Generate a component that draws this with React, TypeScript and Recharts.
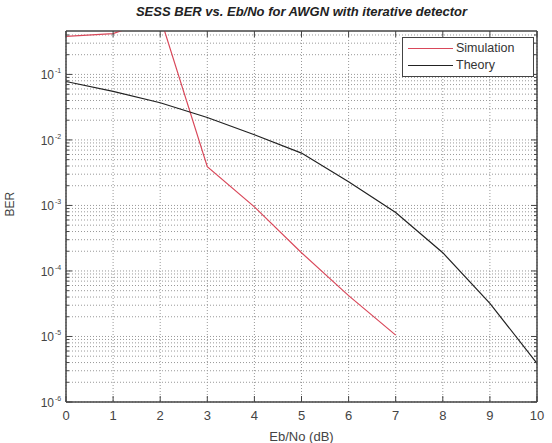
import { LineChart, Line, XAxis, YAxis, CartesianGrid, ReferenceArea } from "recharts";

const ebNo = [0, 1, 2, 3, 4, 5, 6, 7, 8, 9, 10];
const simulationBer = [0.38, 0.42, 0.75, 3.9e-3, 9.5e-4, 1.9e-4, 4.2e-5, 1.05e-5, null, null, null];
const theoryBer = [7.8e-2, 5.5e-2, 3.7e-2, 2.2e-2, 1.2e-2, 6.3e-3, 2.3e-3, 7.8e-4, 1.9e-4, 3.2e-5, 3.9e-6];

const xTicks = [0, 1, 2, 3, 4, 5, 6, 7, 8, 9, 10];
const decades = [1e-6, 1e-5, 1e-4, 1e-3, 1e-2, 1e-1];
const yTop = 0.46;

// minor grid / tick positions: 1..9 times each decade, up to the top of the axis
const yGrid = decades
  .flatMap((d) => [1, 2, 3, 4, 5, 6, 7, 8, 9].map((m) => +(m * d).toPrecision(3)))
  .filter((v) => v <= yTop);

const data = ebNo.map((x, i) => ({ x, sim: simulationBer[i], theory: theoryBer[i] }));

const font = "'Liberation Sans', Arial, sans-serif";
const axisColor = "#444";

const isDecade = (v: number) => Math.abs(Math.log10(v) - Math.round(Math.log10(v))) < 1e-6;

const LeftTick = ({ x, y, payload }: any) => {
  const major = isDecade(payload.value);
  const exp = Math.round(Math.log10(payload.value));
  return (
    <g>
      <line x1={x} x2={x + (major ? 6 : 3)} y1={y} y2={y} stroke={axisColor} />
      {major && (
        <text x={x - 12} y={y + 5} textAnchor="end" fontSize={12} fill="#444" fontFamily={font}>
          10
        </text>
      )}
      {major && (
        <text x={x - 11} y={y - 1} textAnchor="start" fontSize={7} fill="#444" fontFamily={font}>
          {exp}
        </text>
      )}
    </g>
  );
};

const RightTick = ({ x, y, payload }: any) => {
  const major = isDecade(payload.value);
  return <line x1={x} x2={x - (major ? 6 : 3)} y1={y} y2={y} stroke={axisColor} />;
};

const BottomTick = ({ x, y, payload }: any) => (
  <g>
    <line x1={x} x2={x} y1={y} y2={y - 6} stroke={axisColor} />
    <text x={x} y={y + 18} textAnchor="middle" fontSize={13} fill="#444" fontFamily={font}>
      {payload.value}
    </text>
  </g>
);

const TopTick = ({ x, y }: any) => <line x1={x} x2={x} y1={y} y2={y + 6} stroke={axisColor} />;

export default function App() {
  return (
    <div style={{ position: "absolute", left: 0, top: 0, width: 552, height: 443, background: "#fff" }}>
      <div
        style={{
          position: "absolute",
          left: 66,
          width: 471,
          top: 4,
          textAlign: "center",
          fontFamily: font,
          fontSize: 13,
          fontWeight: "bold",
          fontStyle: "italic",
          color: "#222",
        }}
      >
        SESS BER vs. Eb/No for AWGN with iterative detector
      </div>
      <LineChart width={552} height={443} data={data} margin={{ top: 30, right: 0, left: 0, bottom: 0 }}>
        <CartesianGrid
          xAxisId="bottom"
          yAxisId="left"
          stroke="#999"
          strokeDasharray="1 2"
          verticalValues={xTicks}
          horizontalValues={yGrid}
        />
        <XAxis
          xAxisId="bottom"
          dataKey="x"
          type="number"
          domain={[0, 10]}
          ticks={xTicks}
          interval={0}
          height={41}
          tickSize={0}
          tickMargin={0}
          tick={<BottomTick />}
          stroke={axisColor}
          label={{ value: "Eb/No (dB)", position: "insideBottom", offset: 2, fontSize: 13, fill: "#444", fontFamily: font }}
        />
        <XAxis
          xAxisId="top"
          orientation="top"
          dataKey="x"
          type="number"
          domain={[0, 10]}
          ticks={xTicks}
          interval={0}
          height={1}
          tickSize={0}
          tickMargin={0}
          tick={<TopTick />}
          stroke={axisColor}
        />
        <YAxis
          yAxisId="left"
          scale="log"
          type="number"
          domain={[1e-6, yTop]}
          allowDataOverflow
          ticks={yGrid}
          interval={0}
          width={66}
          tickSize={0}
          tickMargin={0}
          tick={<LeftTick />}
          stroke={axisColor}
          label={{ value: "BER", angle: -90, position: "insideLeft", offset: 10, fontSize: 12, fill: "#444", fontFamily: font }}
        />
        <YAxis
          yAxisId="right"
          orientation="right"
          scale="log"
          type="number"
          domain={[1e-6, yTop]}
          allowDataOverflow
          ticks={yGrid}
          interval={0}
          width={15}
          tickSize={0}
          tickMargin={0}
          tick={<RightTick />}
          stroke={axisColor}
        />
        <ReferenceArea
          xAxisId="bottom"
          yAxisId="left"
          x1={0}
          x2={10}
          y1={1e-6}
          y2={yTop}
          fill="none"
          stroke={axisColor}
          strokeWidth={1}
          ifOverflow="visible"
        />
        <Line
          xAxisId="bottom"
          yAxisId="left"
          dataKey="sim"
          stroke="#d9485a"
          strokeWidth={1.2}
          dot={false}
          isAnimationActive={false}
        />
        <Line
          xAxisId="bottom"
          yAxisId="left"
          dataKey="theory"
          stroke="#222"
          strokeWidth={1.2}
          dot={false}
          isAnimationActive={false}
        />
      </LineChart>
      <div
        style={{
          position: "absolute",
          left: 402,
          top: 37,
          width: 132,
          height: 40,
          border: "1px solid #444",
          background: "#fff",
          fontFamily: font,
          fontSize: 12.5,
          color: "#333",
          boxSizing: "border-box",
        }}
      >
        {[
          { name: "Simulation", color: "#d9485a" },
          { name: "Theory", color: "#222" },
        ].map((s, i) => (
          <div key={s.name} style={{ position: "absolute", left: 5, top: 3 + i * 17, display: "flex", alignItems: "center" }}>
            <span style={{ display: "inline-block", width: 45, height: 0, borderTop: `1.2px solid ${s.color}`, marginRight: 3 }} />
            <span>{s.name}</span>
          </div>
        ))}
      </div>
    </div>
  );
}
